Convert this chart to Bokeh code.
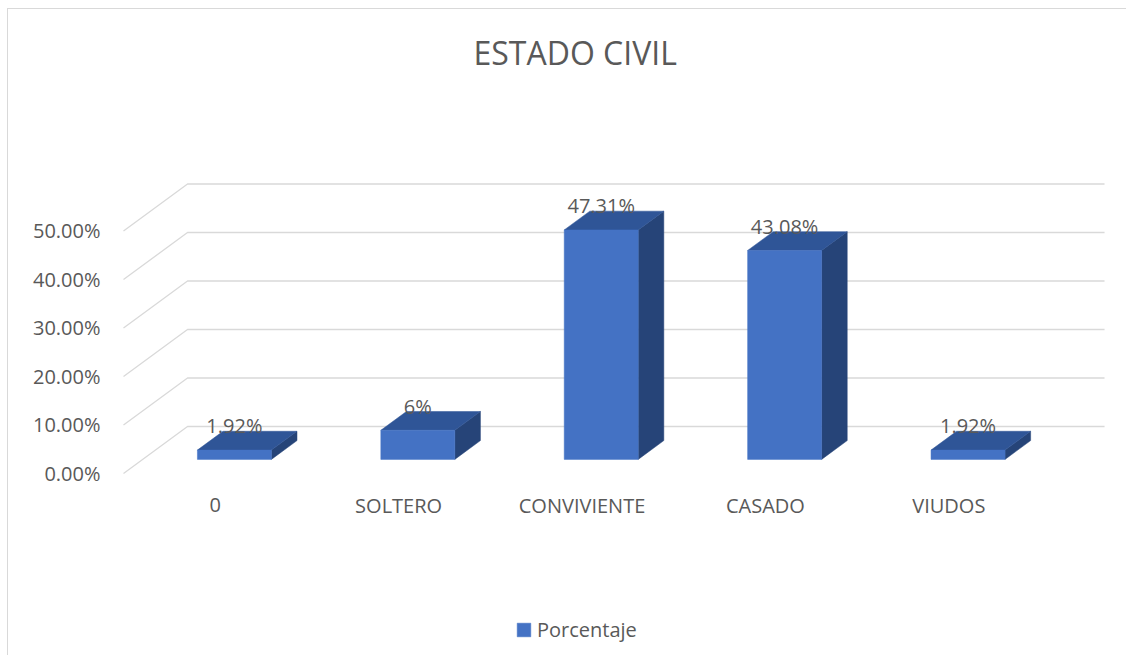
from bokeh.plotting import figure
from bokeh.models import Range1d, FixedTicker, Legend, LegendItem, ColumnDataSource
from bokeh.embed import file_html
from bokeh.resources import INLINE
from bokeh.core.properties import value

# ---------------- data ----------------
categories = ["0", "SOLTERO", "CONVIVIENTE", "CASADO", "VIUDOS"]
porcentaje = [1.92, 6.0, 47.31, 43.08, 1.92]
value_labels = ["1.92%", "6%", "47.31%", "43.08%", "1.92%"]
y_ticks = [0, 10, 20, 30, 40, 50]
y_tick_labels = ["0.00%", "10.00%", "20.00%", "30.00%", "40.00%", "50.00%"]
series_name = "Porcentaje"
title_text = "ESTADO CIVIL"

# ---------------- style ----------------
FONT = "Open Sans"
TXT = "#595959"
GRID = "#d9d9d9"
FRONT = "#4472c4"
TOP = "#2f5597"
SIDE = "#264478"

# oblique (3-D) depth expressed in data units
DX = 0.349      # full depth, horizontal (category units)
DY = 9.69       # full depth, vertical (percent units)
D0, D1 = 0.3, 0.7   # bar front / back depth fractions
BW = 0.4035     # bar width (category units)
LABEL_GAP = 1.1
CAT_Y = -6.5

N = len(categories)

p = figure(width=1126, height=655, output_backend="svg", toolbar_location=None,
           x_range=Range1d(-0.0709, 5.436), y_range=Range1d(-37.53, 78.97),
           x_axis_location=None,
           min_border_left=110, min_border_right=6, min_border_top=90,
           min_border_bottom=0)
p.outline_line_color = None
p.grid.visible = False
p.background_fill_color = "white"
p.border_fill_alpha = 0
p.styles = {
    "background": "linear-gradient(#d9d9d9, #d9d9d9) 7px 8px / 1px 100% no-repeat, "
                  "linear-gradient(#d9d9d9, #d9d9d9) 7px 8px / 100% 1px no-repeat, white"
}

# title
p.title.text = title_text
p.title.align = "left"
p.title.offset = 363
p.title.vertical_align = "bottom"
p.title.standoff = 33
p.title.text_font = FONT
p.title.text_font_size = "32px"
p.title.text_font_style = "normal"
p.title.text_color = TXT

# y axis
ax = p.yaxis[0]
ax.ticker = FixedTicker(ticks=y_ticks)
ax.major_label_overrides = dict(zip(y_ticks, y_tick_labels))
ax.axis_line_color = None
ax.major_tick_line_color = None
ax.minor_tick_line_color = None
ax.major_tick_out = 0
ax.major_tick_in = 0
ax.major_label_standoff = 10
ax.major_label_text_font = FONT
ax.major_label_text_font_size = "20px"
ax.major_label_text_color = TXT

# perspective gridlines: left wall diagonal + back wall horizontal
gx = [[0, DX, N + DX] for v in y_ticks]
gy = [[v, v + DY, v + DY] for v in y_ticks]
p.multi_line(gx, gy, line_color=GRID, line_width=1.3)

# bars
xc = [i + 0.5 + D0 * DX for i in range(N)]
xl = [c - BW / 2 for c in xc]
xr = [c + BW / 2 for c in xc]
ddx = (D1 - D0) * DX
ddy = (D1 - D0) * DY
base = D0 * DY

top_xs = [[l, r, r + ddx, l + ddx] for l, r in zip(xl, xr)]
top_ys = [[v + base, v + base, v + base + ddy, v + base + ddy] for v in porcentaje]
side_xs = [[r, r + ddx, r + ddx, r] for r in xr]
side_ys = [[base, base + ddy, v + base + ddy, v + base] for v in porcentaje]

p.patches(side_xs, side_ys, fill_color=SIDE, line_color=SIDE, line_width=0.5)
p.patches(top_xs, top_ys, fill_color=TOP, line_color=TOP, line_width=0.5)
front = p.quad(left=xl, right=xr, bottom=[base] * N, top=[v + base for v in porcentaje],
               fill_color=FRONT, line_color=FRONT, line_width=0.5)

# value labels
src = ColumnDataSource(dict(x=xc, y=[v + D1 * DY + LABEL_GAP for v in porcentaje], t=value_labels))
p.text(x="x", y="y", text="t", source=src, text_align="center", text_baseline="middle",
       text_font=value(FONT), text_font_size="20px", text_color=TXT)

# category labels
csrc = ColumnDataSource(dict(x=[i + 0.5 for i in range(N)], y=[CAT_Y] * N, t=categories))
p.text(x="x", y="y", text="t", source=csrc, text_align="center", text_baseline="middle",
       text_font=value(FONT), text_font_size="20px", text_color=TXT)

# legend
leg = Legend(items=[LegendItem(label=series_name, renderers=[front])],
             location=(405, 12), orientation="horizontal",
             glyph_width=17, glyph_height=17, label_standoff=5, padding=0, margin=0,
             label_height=20, border_line_color=None, background_fill_alpha=0,
             label_text_font=FONT, label_text_font_size="20px", label_text_color=TXT)
p.add_layout(leg)

open("out.html", "w").write(file_html(p, INLINE))
